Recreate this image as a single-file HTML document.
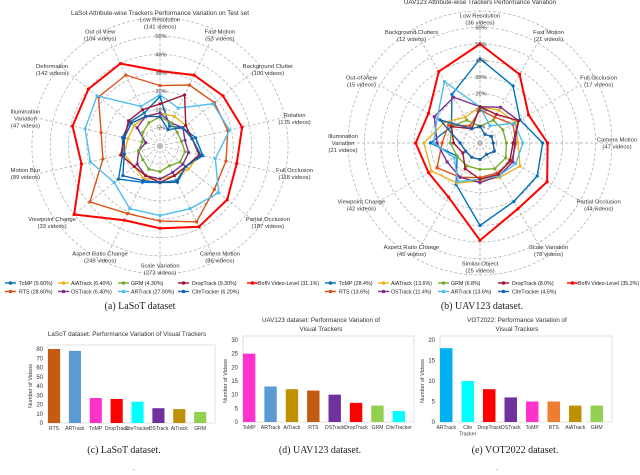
<!DOCTYPE html>
<html><head><meta charset="utf-8"><style>
body{margin:0;background:#fff;}
svg text{font-family:"Liberation Sans",sans-serif;}
</style></head><body>
<svg id="fig" width="640" height="470" viewBox="0 0 640 470" xmlns="http://www.w3.org/2000/svg">
<g id="radarL"></g>
<g id="radarR"></g>
<g id="barC"></g>
<g id="barD"></g>
<g id="barE"></g>
<text x="140" y="309" text-anchor="middle" style="font-family:'Liberation Serif',serif;font-size:10px" fill="#222">(a) LaSoT dataset</text>
<text x="482" y="309" text-anchor="middle" style="font-family:'Liberation Serif',serif;font-size:10px" fill="#222">(b) UAV123 dataset.</text>
<text x="124" y="453" text-anchor="middle" style="font-family:'Liberation Serif',serif;font-size:10px" fill="#222">(c) LaSoT dataset.</text>
<text x="320" y="453" text-anchor="middle" style="font-family:'Liberation Serif',serif;font-size:10px" fill="#222">(d) UAV123 dataset.</text>
<text x="515" y="453" text-anchor="middle" style="font-family:'Liberation Serif',serif;font-size:10px" fill="#222">(e) VOT2022 dataset.</text>
<text x="2" y="477" style="font-family:'Liberation Serif',serif;font-size:10px" fill="#555">Fig. 1: SOTA visual trackers performance variation. Per-attribute analysis on (a) LaSoT and (b) UAV123. The proposed BofN video-level</text>
</svg>
<script>
const NS="http://www.w3.org/2000/svg";
function mk(tag,attrs,parent,txt){const e=document.createElementNS(NS,tag);for(const k in attrs)e.setAttribute(k,attrs[k]);if(txt!==undefined)e.textContent=txt;parent.appendChild(e);return e;}

const seriesNames=["ToMP","RTS","AiATrack","OSTrack","GRM","ARTrack","DropTrack","CiteTracker","BofN Video-Level"];
const seriesColors=["#0072BD","#D95319","#EDB120","#7E2F8E","#77AC30","#4DBEEE","#A2142F","#1560A8","#FF0000"];

const lasotAxes=[["Low Resolution","(141 videos)"],["Fast Motion","(53 videos)"],["Background Clutter","(100 videos)"],["Rotation","(175 videos)"],["Full Occlusion","(118 videos)"],["Partial Occlusion","(187 videos)"],["Camera Motion","(86 videos)"],["Scale Variation","(273 videos)"],["Aspect Ratio Change","(249 videos)"],["Viewpoint Change","(33 videos)"],["Motion Blur","(89 videos)"],["Illumination","Variation","(47 videos)"],["Deformation","(142 videos)"],["Out of View","(104 videos)"]];
const lasotToMP=[17,6,8,10,14,9,11,10,12,19,11,11,11,10];
const lasotRTS=[23,27,28,28,27,28,36,31,31,39,22,23,33,33];
const lasotAiA=[9,9,9,9,12,10,9,9,10,9,10,9,9,9];
const lasotOST=[9,7,8,7,8,8,8,9,9,8,6,4,8,9];
const lasotGRM=[8,7,6,6,7,7,6,7,7,6,6,5,6,7];
const lasotART=[18,13,27,29,21,31,28,28,28,22,29,32,34,14];
const lasotDrop=[13,21,9,9,12,9,9,10,9,9,12,10,12,12];
const lasotCite=[8,5,8,9,13,9,12,10,11,16,10,10,10,9];
const lasotBofN=[31,33,34,36,33,37,39,35,35,50,34,39,40,40];
const lasotLegend=["ToMP (9.60%)","RTS (28.60%)","AiATrack (6.40%)","OSTrack (6.40%)","GRM (4.30%)","ARTrack (27.90%)","DropTrack (9.30%)","CiteTracker (6.20%)","BofN Video-Level (31.1%)"];
const lasotRings=[5,10,20,30,40,50];

const uavAxes=[["Low Resolution","(36 videos)"],["Fast Motion","(21 videos)"],["Full Occlusion","(17 videos)"],["Camera Motion","(47 videos)"],["Partial Occlusion","(44 videos)"],["Scale Variation","(78 videos)"],["Similar Object","(25 videos)"],["Aspect Ratio Change","(45 videos)"],["Viewpoint Change","(42 videos)"],["Illumination","Variation","(21 videos)"],["Out-of-View","(15 videos)"],["Background Clutters","(12 videos)"]];
const uavToMP=[41,30,18,28,30,31,40,19,8,20,10,24];
const uavRTS=[10,9,13,12,12,11,11,14,20,13,12,6];
const uavAiA=[12,13,15,13,18,14,13,18,24,24,15,9];
const uavOST=[12,15,17,11,13,13,14,14,13,16,22,22];
const uavGRM=[5,8,8,8,9,9,8,8,8,9,10,8];
const uavART=[12,6,14,16,15,13,12,17,9,18,20,33];
const uavDrop=[12,10,17,10,11,12,12,9,6,8,10,5];
const uavCite=[5,3,4,4,5,4,5,5,5,6,18,5];
const uavBofN=[50,38,24,31,37,36,49,28,26,29,26,40];
const uavLegend=["ToMP (28.4%)","RTS (13.6%)","AiATrack (13.6%)","OSTrack (11.4%)","GRM (6.8%)","ARTrack (13.6%)","DropTrack (8.0%)","CiteTracker (4.5%)","BofN Video-Level (35.2%)"];
const uavRings=[5,10,20,30,40,50,60];

function radar(g,cfg){
  const {cx,cy,s,axes,series,rings,extra,rx,ry,title,titleY,legend,ox}=cfg;
  const n=axes.length;
  const rv=v=>v<=10? v/5*s : 2*s+(v-10)/10*s;
  const ang=i=>(-90+360*i/n)*Math.PI/180;
  mk("text",{x:cx,y:titleY,"text-anchor":"middle","font-size":"6.3","fill":"#333",},g,title);
  for(let k=1;k<=rings.length+extra;k++){
    const c=mk("circle",{cx:cx,cy:cy,r:k*s,fill:"none",stroke:"#aaa","stroke-width":"0.7","stroke-dasharray":"3,2"},g);
    
    
  }
  const R=(rings.length+extra)*s;
  axes.forEach((a,i)=>{
    const l=mk("line",{x1:cx,y1:cy,x2:cx+R*Math.cos(ang(i)),y2:cy+R*Math.sin(ang(i)),stroke:"#aaa","stroke-width":"0.7","stroke-dasharray":"3,2"},g);
    
    
    const lx=cx+rx*Math.cos(ang(i)), ly=cy+ry*Math.sin(ang(i));
    const t=mk("text",{x:lx,y:ly-(a.length-1)*3.5+2,"text-anchor":"middle","font-size":"5.9","fill":"#333"},g);
    
    
    a.forEach((line,j)=>{mk("tspan",{x:lx,dy:j?7:0},t,line);});
  });
  mk("circle",{cx:cx,cy:cy,r:3,fill:"#bbb",},g);
  series.forEach((vals,si)=>{
    const pts=vals.map((v,i)=>[cx+rv(v)*Math.cos(ang(i)),cy+rv(v)*Math.sin(ang(i))]);
    const p=mk("polygon",{points:pts.map(q=>q.join(",")).join(" "),fill:"none",stroke:seriesColors[si],"stroke-width":si==8?2:1.4},g);
    
    
    pts.forEach(q=>{
      const m=mk("circle",{cx:q[0],cy:q[1],r:1.6,fill:seriesColors[si]},g);
      
      
    });
  });
  rings.forEach((v,k)=>{
    const t=mk("text",{x:cx+1,y:cy-rv(v)+2,"text-anchor":"middle","font-size":"5.6","fill":"#444"},g,v+"%");
    
    
  });
  const colX=[5,58,118,178,247], tX=[19,71,131,192,258];
  const order=[[0,0],[1,0],[2,1],[3,1],[4,2],[5,2],[6,3],[7,3],[8,4]];
  const rowOf=[0,1,0,1,0,1,0,1,0];
  order.forEach(([si,c])=>{
    const y=283+rowOf[si]*8.5;
    const lg=mk("g",{},g);
    
    
    mk("line",{x1:ox+colX[c],y1:y,x2:ox+colX[c]+11,y2:y,stroke:seriesColors[si],"stroke-width":1.4},lg);
    mk("circle",{cx:ox+colX[c]+5.5,cy:y,r:1.8,fill:seriesColors[si]},lg);
    mk("text",{x:ox+tX[c],y:y+2.2,"font-size":"5.3","fill":"#222"},lg,legend[si]);
  });
}
radar(document.getElementById("radarL"),{cx:160,cy:146,s:18.3,axes:lasotAxes,series:[lasotToMP,lasotRTS,lasotAiA,lasotOST,lasotGRM,lasotART,lasotDrop,lasotCite,lasotBofN],rings:lasotRings,extra:1,rx:138,ry:123,title:"LaSot Attribute-wise Trackers Performance Variation on Test set",titleY:15,legend:lasotLegend,ox:0});
radar(document.getElementById("radarR"),{cx:480,cy:143,s:16.5,axes:uavAxes,series:[uavToMP,uavRTS,uavAiA,uavOST,uavGRM,uavART,uavDrop,uavCite,uavBofN],rings:uavRings,extra:1,rx:137,ry:124,title:"UAV123 Attribute-wise Trackers Performance Variation",titleY:4,legend:uavLegend,ox:320});

const cCats=["RTS","ARTrack","ToMP","DropTrack","CiteTracker","OSTrack","AiTrack","GRM"];
const cVals=[80,78,27,26,23,16,15,12];
const cCols=["#C55A11","#5B9BD5","#FF33CC","#FF0000","#00FFFF","#7030A0","#BF9000","#92D050"];
const cTicks=[0,10,20,30,40,50,60,70,80];
const dCats=["ToMP","ARTrack","AiTrack","RTS","OSTrack","DropTrack","GRM","CiteTracker"];
const dVals=[25,13,12,11.5,10,7,6,4];
const dCols=["#FF33CC","#5B9BD5","#BF9000","#C55A11","#7030A0","#FF0000","#92D050","#00FFFF"];
const dTicks=[0,5,10,15,20,25,30];
const eCats=["ARTrack","Cite|Tracker","DropTrack","OSTrack","ToMP","RTS","AiATrack","GRM"];
const eVals=[18,10,8,6,5,5,4,4];
const eCols=["#00B0F0","#00FFFF","#FF0000","#7030A0","#FF33CC","#ED7D31","#BF9000","#92D050"];
const eTicks=[0,5,10,15,20];

function bars(g,cfg){
  const {x0,x1,yTop,y0,max,cats,vals,cols,ticks,title,titleX,titleY,ylabX,tickX}=cfg;
  const yv=v=>y0-(v/max)*(y0-yTop);
  title.forEach((t,i)=>mk("text",{x:titleX,y:titleY+i*9,"text-anchor":"middle","font-size":"6.3","fill":"#333",},g,t));
  mk("rect",{x:x0,y:yTop-4,width:x1-x0,height:y0-yTop+4,fill:"none",stroke:"#d9d9d9","stroke-width":"0.8",},g);
  ticks.forEach(v=>{
    const t=mk("text",{x:tickX,y:yv(v)+2,"text-anchor":"end","font-size":"6","fill":"#333"},g,v);
    
    
  });
  const ylab=mk("text",{x:ylabX,y:(yTop+y0)/2,"text-anchor":"middle","font-size":"5.5","fill":"#333",transform:`rotate(-90 ${ylabX} ${(yTop+y0)/2})`},g,"Number of Videos");
  
  
  const step=(x1-x0)/cats.length, bw=step*0.58;
  cats.forEach((c,i)=>{
    const xc=x0+step*i+bw/2;
    const r=mk("rect",{x:xc-bw/2,y:yv(vals[i]),width:bw,height:y0-yv(vals[i]),fill:cols[i]},g);
    
    
    c.split('|').forEach((ln,j)=>{
      const t=mk("text",{x:xc,y:y0+7+j*6.5,"text-anchor":"middle","font-size":"5.1","fill":"#333"},g,ln);
      
      
    });
  });
}
bars(document.getElementById("barC"),{x0:48,x1:215,yTop:349,y0:423,max:80,cats:cCats,vals:cVals,cols:cCols,ticks:cTicks,title:["LaSoT dataset:  Performance Variation of Visual Trackers"],titleX:127,titleY:336,ylabX:32,tickX:43});
bars(document.getElementById("barD"),{x0:243,x1:414,yTop:340,y0:422,max:30,cats:dCats,vals:dVals,cols:dCols,ticks:dTicks,title:["UAV123 dataset: Performance Variation of","Visual Trackers"],titleX:321,titleY:322,ylabX:227,tickX:238});
bars(document.getElementById("barE"),{x0:440,x1:612,yTop:340,y0:422,max:20,cats:eCats,vals:eVals,cols:eCols,ticks:eTicks,title:["VOT2022: Performance Variation of","Visual Trackers"],titleX:517,titleY:322,ylabX:424,tickX:435});
</script>
</body></html>
